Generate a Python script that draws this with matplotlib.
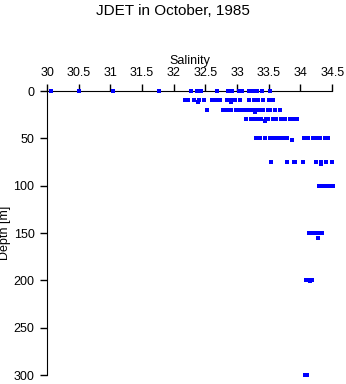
import matplotlib
matplotlib.use("Agg")
import matplotlib.pyplot as plt

plt.rcParams['font.family'] = ['Liberation Sans', 'DejaVu Sans']

# salinity readings per depth level
sal_0 = [30.06, 30.51, 31.04, 31.77, 32.27, 32.37, 32.43, 32.69, 32.86, 32.92,
         33.03, 33.08, 33.18, 33.25, 33.32, 33.40, 33.52]
sal_10 = [32.18, 32.23, 32.32, 32.40, 32.48, 32.61, 32.67, 32.73, 32.84, 32.91,
          32.97, 33.05, 33.19, 33.27, 33.33, 33.41, 33.51, 33.57]
sal_20 = [32.53, 32.78, 32.84, 32.91, 32.99, 33.05, 33.10, 33.16, 33.22, 33.29,
          33.35, 33.41, 33.48, 33.52, 33.60, 33.68]
sal_30 = [33.14, 33.22, 33.27, 33.32, 33.38, 33.46, 33.49, 33.56, 33.62, 33.70,
          33.76, 33.84, 33.90, 33.95]
sal_50 = [33.30, 33.36, 33.44, 33.52, 33.57, 33.62, 33.68, 33.74, 33.79,
          34.06, 34.12, 34.19, 34.25, 34.31, 34.38, 34.44]
sal_75 = [33.54, 33.79, 33.89, 33.92, 34.04, 34.25, 34.33, 34.41, 34.49]
sal_100 = [34.30, 34.36, 34.42, 34.48, 34.52]
sal_150 = [34.14, 34.18, 34.23, 34.28, 34.34]
sal_200 = [34.08, 34.13, 34.18]
sal_300 = [34.07, 34.10]

# a few odd readings slightly off the standard levels
sal_extra = [32.39, 32.90, 33.29, 33.44, 33.87, 34.33, 34.27, 34.15]
dep_extra = [12, 12, 22, 32, 52, 77, 155, 201]

levels = [(0, sal_0), (10, sal_10), (20, sal_20), (30, sal_30), (50, sal_50),
          (75, sal_75), (100, sal_100), (150, sal_150), (200, sal_200), (300, sal_300)]

fig = plt.figure(figsize=(3.46, 3.84), dpi=100)
ax = fig.add_axes([0.136, 0.0234, 0.824, 0.7396])

for d, s in levels:
    ax.plot(s, [d] * len(s), 's', color='#0000ff', markersize=2.2,
            markeredgewidth=0, clip_on=False, zorder=5)
ax.plot(sal_extra, dep_extra, 's', color='#0000ff', markersize=2.2,
        markeredgewidth=0, clip_on=False, zorder=5)

ax.set_xlim(30, 34.5)
ax.set_ylim(300, 0)
ax.set_xticks([30, 30.5, 31, 31.5, 32, 32.5, 33, 33.5, 34, 34.5])
ax.set_xticklabels(['30', '30.5', '31', '31.5', '32', '32.5', '33', '33.5', '34', '34.5'])
ax.set_yticks([0, 50, 100, 150, 200, 250, 300])
ax.xaxis.tick_top()
ax.xaxis.set_label_position('top')
ax.spines['right'].set_visible(False)
ax.spines['bottom'].set_visible(False)
ax.tick_params(axis='both', labelsize=9, length=5, width=1, pad=4)
ax.set_xlabel('Salinity', fontsize=9, labelpad=2)
ax.set_ylabel('Depth [m]', fontsize=9)
ax.yaxis.set_label_coords(-0.125, 0.5)

fig.suptitle('JDET in October, 1985', fontsize=11, y=0.99)

fig.savefig('out.png', dpi=100)
